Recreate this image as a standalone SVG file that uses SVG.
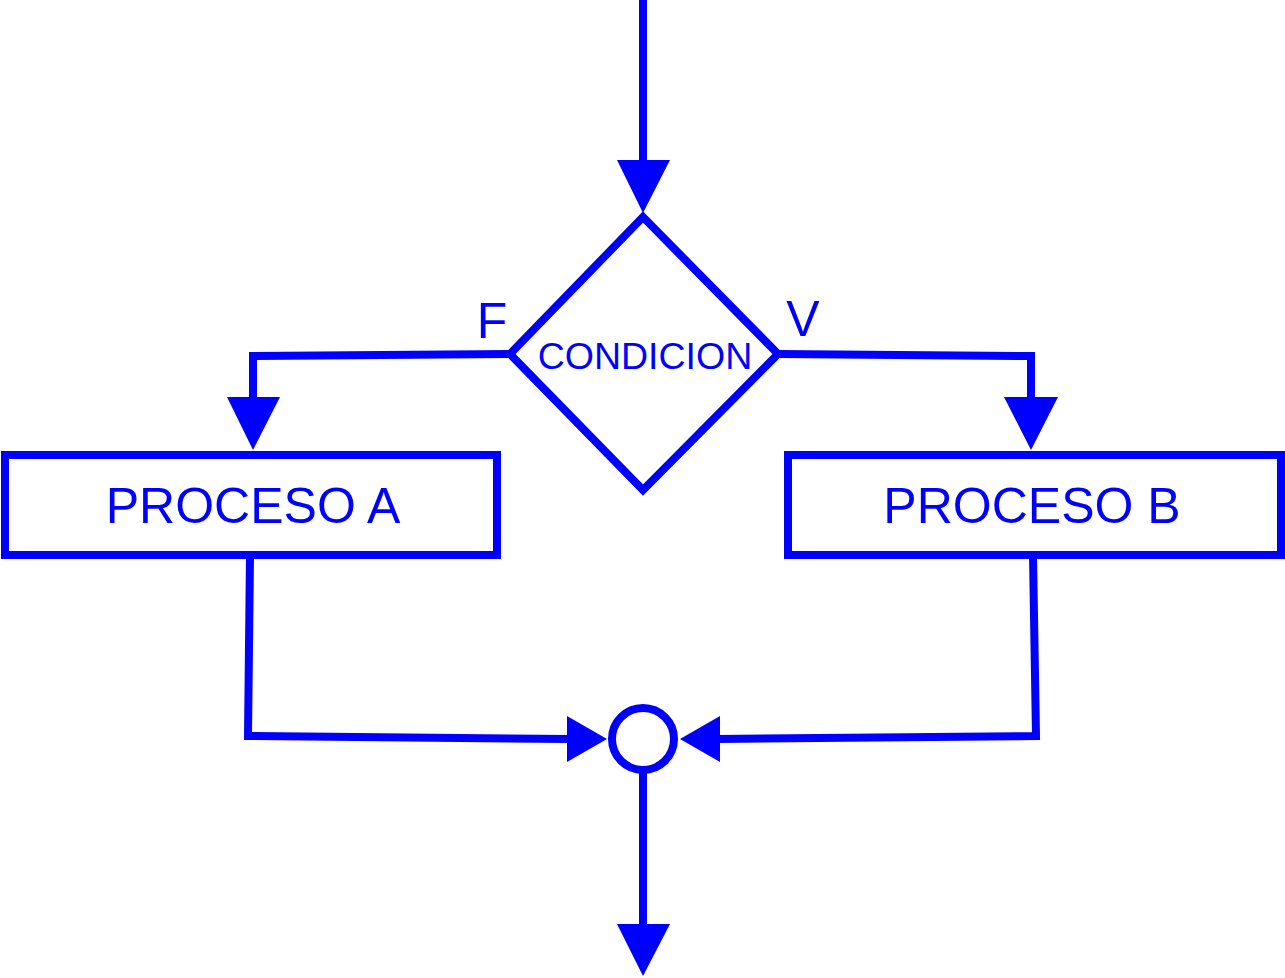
<svg xmlns="http://www.w3.org/2000/svg" width="1285" height="978" viewBox="0 0 1285 978">
<style>
.s{fill:none;stroke:#0000ff;stroke-width:8}
.n{fill:#fff;stroke:#0000ff;stroke-width:8}
.h{fill:#0000ff}
text{font-family:"Liberation Sans",Arial,sans-serif;fill:#0000ff;text-anchor:middle}
</style>
<rect width="1285" height="978" fill="#fff"/>
<g id="connectors">
<path class="s" d="M643,0V162"/><polygon class="h" points="617,160 670,160 643,213"/>
<path class="s" d="M510,354L253,356V400"/><polygon class="h" points="227,397 280,397 253,450"/>
<path class="s" d="M778,354L1031,356V400"/><polygon class="h" points="1004,397 1058,397 1031,450"/>
<path class="s" d="M250,555L248,736L570,739"/><polygon class="h" points="567,716 567,762 607,739"/>
<path class="s" d="M1033,555L1036,736L717,739"/><polygon class="h" points="720,716 720,762 680,739"/>
<path class="s" d="M643,771V926"/><polygon class="h" points="617,924 670,924 643,976"/>
</g>
<g id="condicion"><polygon class="n" points="643,217 778,354 643,490 510,354"/><text x="645" y="369" font-size="37.5">CONDICION</text></g>
<g id="labelF"><text x="492" y="338" font-size="50">F</text></g>
<g id="labelV"><text x="803" y="336" font-size="50">V</text></g>
<g id="procesoA"><rect class="n" x="5" y="455" width="492" height="100"/><text x="253" y="523" font-size="50">PROCESO A</text></g>
<g id="procesoB"><rect class="n" x="788" y="455" width="493" height="100"/><text x="1032" y="523" font-size="50">PROCESO B</text></g>
<g id="junction"><circle class="n" cx="643" cy="739" r="31"/></g>
</svg>
